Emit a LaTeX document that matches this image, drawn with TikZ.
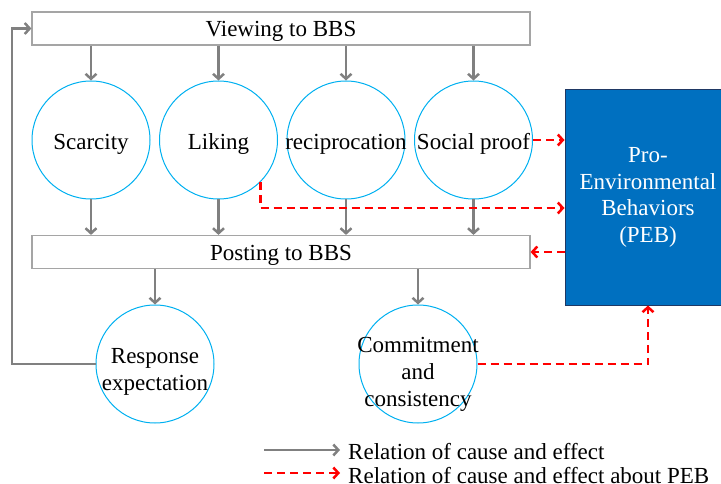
\documentclass[tikz,border=0pt]{standalone}
\usepackage{fontspec}
\setmainfont{Liberation Serif}
\usepackage{xcolor}
\usetikzlibrary{shapes.geometric, arrows, arrows.meta, positioning, calc}
\definecolor{causegray}{RGB}{128, 128, 128}
\definecolor{boxgray}{RGB}{165, 165, 165}
\definecolor{circleblue}{RGB}{0, 176, 240}
\definecolor{pebblue}{RGB}{0, 112, 192}
\definecolor{pebborder}{RGB}{31, 56, 100}
\definecolor{pebred}{RGB}{255, 0, 0}
\tikzstyle{bbs} = [rectangle, minimum width=498pt, minimum height=33pt, inner sep=0pt, draw=boxgray, line width=1.2pt, fill=white]
\tikzstyle{principle} = [circle, minimum size=118pt, inner sep=0pt, draw=circleblue, line width=1pt]
\tikzstyle{pebbox} = [rectangle, minimum width=166pt, minimum height=215pt, inner sep=0pt, draw=pebborder, line width=1pt, fill=pebblue, text=white, align=center, font=\fontsize{23}{26.5}\selectfont]
\tikzstyle{arrow} = [draw=causegray, line width=2.5pt, -{Straight Barb[length=5pt, width=11pt]}]
\tikzstyle{pebarrow} = [draw=pebred, line width=2.5pt, dash pattern=on 8pt off 5pt, -{Straight Barb[length=5pt, width=11pt]}]

\begin{document}
\begin{tikzpicture}[x=1pt, y=-1pt, font=\fontsize{23}{27}\selectfont]
\useasboundingbox (0,0) rectangle (721,484);

% BBS activities
\node (viewing) [bbs, label={[yshift=-3pt]center:Viewing to BBS}] at (281,28.5) {};
\node (posting) [bbs, label={[yshift=-3pt]center:Posting to BBS}] at (281,252) {};

% Principles of influence
\node (scarcity) [principle, label={[yshift=-4pt]center:Scarcity}] at (91,140) {};
\node (liking) [principle, right=8.5pt of scarcity, label={[yshift=-4pt]center:Liking}] {};
\node (recip) [principle, right=8.5pt of liking, label={[yshift=-4pt]center:reciprocation}] {};
\node (social) [principle, right=8.5pt of recip, label={[yshift=-4pt]center:Social proof}] {};
\node (response) [principle, label={[align=center, yshift=-8pt]center:Response\\expectation}] at (155,364) {};
\node (commit) [principle, label={[align=center, yshift=-10pt]center:Commitment\\and\\consistency}] at (418,364) {};

% Behavior
\node (peb) [pebbox] at (648,197.5) {Pro-\\Environmental\\Behaviors\\(PEB)};

% Arrows
\foreach \p in {scarcity, liking, recip, social} {
  \draw [arrow] (viewing.south -| \p) -- (\p);
  \draw [arrow] (\p) -- (posting.north -| \p);
}
\draw [arrow] (posting.south -| response) -- (response);
\draw [arrow] (posting.south -| commit) -- (commit);
\draw [arrow] (response.west) -- ++(-83.5,0) |- (viewing.west);

% PEB arrows
\draw [pebarrow] (social.east) -- (social.east -| peb.west);
\draw [pebarrow] (liking.-45) |- ([yshift=-10.5pt]peb.west);
\draw [pebarrow] (peb.west |- posting.east) -- (posting.east);
\draw [pebarrow] (commit.east) -| (peb.south);

% Legend
\node (legcause) [anchor=west, inner sep=0pt, xshift=8pt] at (340,452) {Relation of cause and effect};
\node (legpeb) [anchor=west, inner sep=0pt, xshift=8pt] at (340,476) {Relation of cause and effect about PEB};
\coordinate (causestart) at (264,450);
\coordinate (pebstart) at (264,473);
\draw [arrow] (causestart) -- ([xshift=-8pt]causestart -| legcause.west);
\draw [pebarrow] (pebstart) -- ([xshift=-8pt]pebstart -| legpeb.west);

\end{tikzpicture}
\end{document}
